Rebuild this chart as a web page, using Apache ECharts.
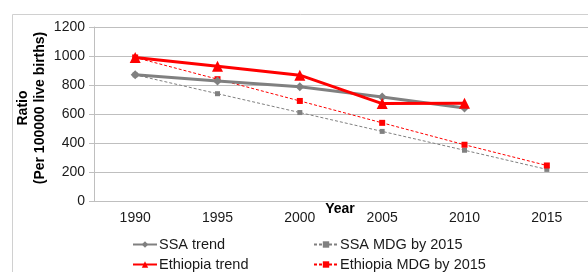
<!DOCTYPE html>
<html>
<head>
<meta charset="utf-8">
<script src="https://cdn.jsdelivr.net/npm/echarts@6/dist/echarts.min.js"></script>
<style>
  html, body { margin: 0; padding: 0; background: #fff; }
  #chart { width: 588px; height: 272px; }
</style>
</head>
<body>
<div id="chart"></div>
<script>
const years = ['1990', '1995', '2000', '2005', '2010', '2015']
const ssaTrend = [870, 828, 788, 718, 641, null]
const ethiopiaTrend = [990, 929, 868, 672, 674, null]
const ssaMdg = [870, 740, 610, 480, 350, 218]
const ethiopiaMdg = [990, 840, 690, 539, 388, 245]

const font = '"Liberation Sans", Arial, sans-serif'
const grey = '#808080'
const red = '#ff0000'

// one legend per entry so the 2x2 layout is fixed
function legendAt(name, left, top) {
  return {
    show: true, left: left, top: top, orient: 'horizontal',
    itemWidth: 24, itemHeight: 8, data: [name],
    textStyle: { fontSize: 14.5, color: '#1a1a1a', fontFamily: font, padding: [0, 0, 0, -3] },
  }
}

const chart = echarts.init(document.getElementById('chart'), undefined, { renderer: 'canvas' })
chart.setOption({
  animation: false,
  backgroundColor: '#fff',
  textStyle: { fontFamily: font },
  grid: { left: 94, top: 27, width: 498, height: 174, containLabel: false },
  xAxis: {
    type: 'category',
    data: years,
    boundaryGap: true,
    axisLine: { lineStyle: { color: '#bfbfbf', width: 1 } },
    axisTick: { show: false },
    axisLabel: { color: '#1a1a1a', fontSize: 14, margin: 10, fontFamily: font },
  },
  yAxis: {
    type: 'value',
    min: 0,
    max: 1200,
    interval: 200,
    axisLine: { show: true, lineStyle: { color: '#bfbfbf', width: 1 } },
    axisTick: { show: true, inside: false, length: 5, lineStyle: { color: '#bfbfbf' } },
    axisLabel: { color: '#1a1a1a', fontSize: 14, margin: 9, fontFamily: font, formatter: (v) => String(v) },
    splitLine: { lineStyle: { color: '#bfbfbf', width: 1 } },
  },
  legend: [
    legendAt('SSA trend', 127, 232),
    legendAt('Ethiopia trend', 127, 252),
    legendAt('SSA MDG by 2015', 308, 232),
    legendAt('Ethiopia MDG by 2015', 308, 252),
  ],
  graphic: [
    {
      type: 'rect', left: 10, top: 12, z: -1,
      shape: { width: 620, height: 300 },
      style: { fill: 'none', stroke: '#d0d0d0', lineWidth: 1 },
    },
    {
      type: 'text', x: 32, y: 108, rotation: Math.PI / 2,
      style: {
        text: 'Ratio\n(Per 100000 live births)', fill: '#000', font: 'bold 14px ' + font,
        align: 'center', verticalAlign: 'middle', lineHeight: 17,
      },
    },
    {
      type: 'text', x: 340, y: 209,
      style: { text: 'Year', fill: '#000', font: 'bold 14px ' + font, align: 'center', verticalAlign: 'middle' },
    },
  ],
  series: [
    {
      name: 'SSA MDG by 2015', type: 'line', data: ssaMdg, symbol: 'rect', symbolSize: 5,
      lineStyle: { color: grey, width: 1, type: [3, 2] }, itemStyle: { color: grey }, z: 2,
    },
    {
      name: 'Ethiopia MDG by 2015', type: 'line', data: ethiopiaMdg, symbol: 'rect', symbolSize: 6,
      lineStyle: { color: red, width: 1, type: [3, 2] }, itemStyle: { color: red }, z: 3,
    },
    {
      name: 'SSA trend', type: 'line', data: ssaTrend, symbol: 'diamond', symbolSize: 9,
      lineStyle: { color: grey, width: 3 }, itemStyle: { color: grey }, z: 4,
    },
    {
      name: 'Ethiopia trend', type: 'line', data: ethiopiaTrend, symbol: 'triangle', symbolSize: 11,
      lineStyle: { color: red, width: 3 }, itemStyle: { color: red }, z: 5,
    },
  ],
})
</script>
</body>
</html>
